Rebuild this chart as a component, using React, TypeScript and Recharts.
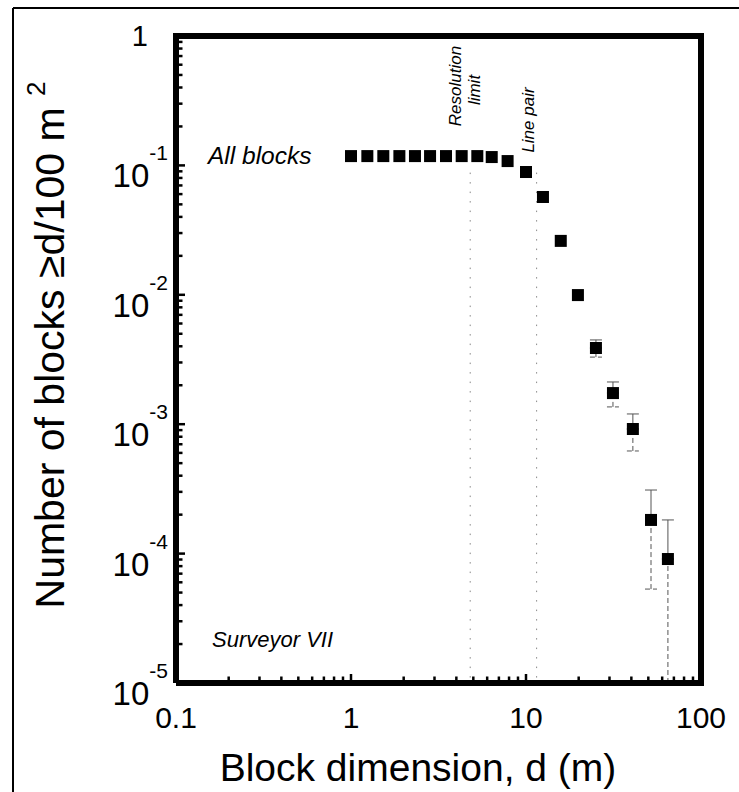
import { ScatterChart, Scatter, XAxis, YAxis, ErrorBar, ReferenceLine } from 'recharts';

// block size bins (m) and cumulative number density (per 100 m^2)
const blockSize = [1.0, 1.24, 1.53, 1.89, 2.32, 2.83, 3.49, 4.29, 5.27, 6.37, 7.85, 10.0, 12.5, 15.8, 19.8, 25.1, 31.4, 40.8, 51.8, 64.7];
const density = [0.118, 0.118, 0.118, 0.118, 0.118, 0.118, 0.118, 0.118, 0.118, 0.116, 0.108, 0.0889, 0.057, 0.0261, 0.00995, 0.00388, 0.00174, 0.000918, 0.000182, 0.0000908];
const errUpper = [null, null, null, null, null, null, null, null, null, null, null, null, null, null, null, 0.00448, 0.00212, 0.0012, 0.00031, 0.000182];
const errLower = [null, null, null, null, null, null, null, null, null, null, null, null, null, null, null, 0.0033, 0.00136, 0.000621, 0.0000532, 0.00001];

const xMajorTicks = [0.1, 1, 10, 100];
const xTickLabels = ['0.1', '1', '10', '100'];
const yMajorTicks = [1e-5, 1e-4, 1e-3, 1e-2, 1e-1, 1];
const yTickExps = ['-5', '-4', '-3', '-2', '-1', ''];
const minorSteps = [2, 3, 4, 5, 6, 7, 8, 9];

const resolutionLimit = 4.8;
const linePair = 11.5;

const xTicks = [...xMajorTicks, ...xMajorTicks.slice(0, -1).flatMap((d) => minorSteps.map((m) => +(d * m).toPrecision(3)))];
const yTicks = [...yMajorTicks, ...yMajorTicks.slice(0, -1).flatMap((d) => minorSteps.map((m) => +(d * m).toPrecision(3)))];

const data = blockSize.map((d, i) => ({
  d,
  n: density[i],
  up: errUpper[i] == null ? undefined : [0, errUpper[i]! - density[i]],
  low: errLower[i] == null ? undefined : [density[i] - errLower[i]!, 0],
}));

const FONT = '"Liberation Sans", Arial, Helvetica, sans-serif';
const AXIS_LINE = { stroke: '#000', strokeWidth: 6 };
const TICK_SIZE = 1; // recharts treats 0 as "use default", so keep it tiny and offset below

// plot frame (matches chart margins / axis sizes below)
const PLOT = { left: 176, top: 36, right: 701, bottom: 683 };

const XTick = (props: any) => {
  const { x, payload } = props;
  const y = props.y - TICK_SIZE;
  const idx = xMajorTicks.indexOf(Number(payload.value));
  const major = idx >= 0;
  const len = major ? 9 : 6.5;
  return (
    <g>
      <line x1={x} y1={y} x2={x} y2={y - len} stroke="#000" strokeWidth={2.5} />
      {major && (
        <text x={x} y={y + 45} textAnchor="middle" fontSize={30} fontFamily={FONT} fill="#000" stroke="none">
          {xTickLabels[idx]}
        </text>
      )}
    </g>
  );
};

const YTick = (props: any) => {
  const { y, payload } = props;
  const x = props.x + TICK_SIZE;
  const idx = yMajorTicks.indexOf(Number(payload.value));
  const major = idx >= 0;
  const len = major ? 9 : 6.5;
  let label = null;
  if (major && yTickExps[idx] === '') {
    label = (
      <text x={x - 28} y={y + 10} textAnchor="end" fontSize={29} fontFamily={FONT} fill="#000" stroke="none">1</text>
    );
  } else if (major) {
    label = (
      <text x={x - 8} y={y + 22} textAnchor="end" fontFamily={FONT} fill="#000" stroke="none">
        <tspan fontSize={33}>10</tspan>
        <tspan fontSize={21} dy={-27}>{yTickExps[idx]}</tspan>
      </text>
    );
  }
  return (
    <g>
      <line x1={x} y1={y} x2={x + len} y2={y} stroke="#000" strokeWidth={2.5} />
      {label}
    </g>
  );
};

const Square = (props: any) => {
  const { cx, cy } = props;
  return <rect x={cx - 6} y={cy - 6} width={12} height={12} fill="#000" />;
};

export default function App() {
  return (
    <div style={{ position: 'relative', width: 739, height: 792, background: '#fff', overflow: 'hidden' }}>
      <style>{'body{margin:0}'}</style>
      <ScatterChart width={739} height={792} margin={{ top: PLOT.top, right: 739 - PLOT.right, bottom: 0, left: 0 }}>
        <XAxis
          type="number"
          dataKey="d"
          scale="log"
          domain={[0.1, 100]}
          allowDataOverflow
          ticks={xTicks}
          interval={0}
          tickSize={TICK_SIZE}
          tickMargin={0}
          tickLine={false}
          tick={<XTick />}
          axisLine={AXIS_LINE}
          height={792 - PLOT.bottom}
        />
        <YAxis
          type="number"
          dataKey="n"
          scale="log"
          domain={[1e-5, 1]}
          allowDataOverflow
          ticks={yTicks}
          interval={0}
          tickSize={TICK_SIZE}
          tickMargin={0}
          tickLine={false}
          tick={<YTick />}
          axisLine={AXIS_LINE}
          width={PLOT.left}
        />
        <ReferenceLine
          segment={[{ x: resolutionLimit, y: 0.088 }, { x: resolutionLimit, y: 1e-5 }]}
          stroke="#888"
          strokeDasharray="1.5 8"
        />
        <ReferenceLine
          segment={[{ x: linePair, y: 0.088 }, { x: linePair, y: 1e-5 }]}
          stroke="#888"
          strokeDasharray="1.5 8"
        />
        <Scatter data={data} shape={<Square />} isAnimationActive={false}>
          <ErrorBar dataKey="up" direction="y" width={6} stroke="#555" strokeWidth={1} />
          <ErrorBar dataKey="low" direction="y" width={6} stroke="#555" strokeWidth={1} strokeDasharray="5 3" />
        </Scatter>
      </ScatterChart>
      <svg width={739} height={792} style={{ position: 'absolute', left: 0, top: 0, pointerEvents: 'none' }}>
        <line x1={13} y1={8} x2={13} y2={792} stroke="#000" strokeWidth={2} />
        <line x1={13} y1={8} x2={739} y2={8} stroke="#000" strokeWidth={2} />
        <path
          d={`M${PLOT.left - 3},${PLOT.top}H${PLOT.right}V${PLOT.bottom + 3}`}
          fill="none"
          stroke="#000"
          strokeWidth={6}
        />
        <text x={208} y={164} fontSize={24.5} fontStyle="italic" fontFamily={FONT}>All blocks</text>
        <text x={212} y={647} fontSize={22} fontStyle="italic" fontFamily={FONT}>Surveyor VII</text>
        <text transform="translate(461,86) rotate(-90)" textAnchor="middle" fontSize={17} fontStyle="italic" fontFamily={FONT}>Resolution</text>
        <text transform="translate(480,90) rotate(-90)" textAnchor="middle" fontSize={17} fontStyle="italic" fontFamily={FONT}>limit</text>
        <text transform="translate(534,120) rotate(-90)" textAnchor="middle" fontSize={17} fontStyle="italic" fontFamily={FONT}>Line pair</text>
        <text transform="translate(64,345) rotate(-90)" textAnchor="middle" fontSize={41} fontFamily={FONT}>
          Number of blocks ≥d/100 m <tspan fontSize={26} dy={-19}>2</tspan>
        </text>
        <text x={418} y={781} textAnchor="middle" fontSize={39} fontFamily={FONT}>Block dimension, d (m)</text>
      </svg>
    </div>
  );
}
